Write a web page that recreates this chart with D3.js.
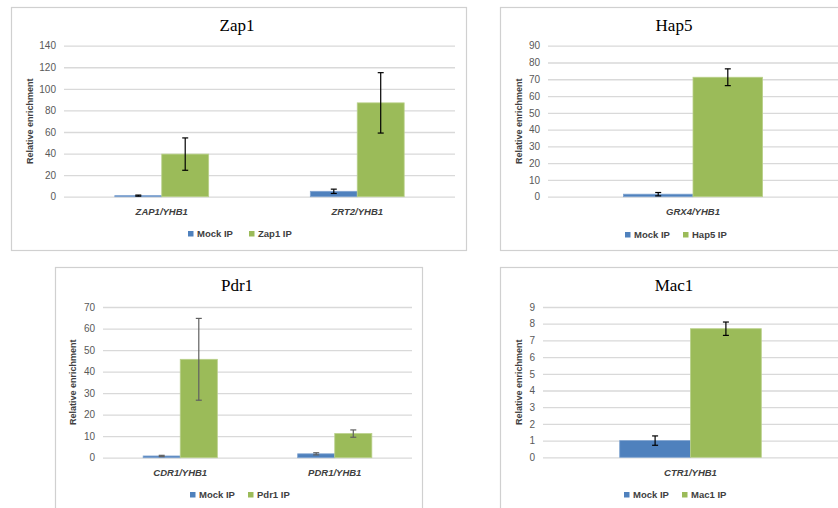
<!DOCTYPE html>
<html>
<head>
<meta charset="utf-8">
<script src="https://cdn.jsdelivr.net/npm/d3@7"></script>
<style>
  html, body { margin: 0; padding: 0; background: #ffffff; }
  svg { display: block; }
</style>
</head>
<body>
<svg id="chart" width="838" height="508"></svg>
<script>
// ---------- DATA ----------
const seriesNames = ["Mock IP", "IP"];

const zap1Categories = ["ZAP1/YHB1", "ZRT2/YHB1"];
const zap1Mock = [1.0, 5.0];
const zap1MockErr = [0.5, 2.0];
const zap1IP = [39.5, 87];
const zap1IPErr = [15, 28];
const zap1Ticks = [0, 20, 40, 60, 80, 100, 120, 140];

const hap5Categories = ["GRX4/YHB1"];
const hap5Mock = [1.5];
const hap5MockErr = [1.0];
const hap5IP = [71.2];
const hap5IPErr = [5.0];
const hap5Ticks = [0, 10, 20, 30, 40, 50, 60, 70, 80, 90];

const pdr1Categories = ["CDR1/YHB1", "PDR1/YHB1"];
const pdr1Mock = [0.8, 1.8];
const pdr1MockErr = [0.3, 0.5];
const pdr1IP = [45.7, 11.2];
const pdr1IPErr = [19, 1.7];
const pdr1Ticks = [0, 10, 20, 30, 40, 50, 60, 70];

const mac1Categories = ["CTR1/YHB1"];
const mac1Mock = [1.0];
const mac1MockErr = [0.28];
const mac1IP = [7.7];
const mac1IPErr = [0.4];
const mac1Ticks = [0, 1, 2, 3, 4, 5, 6, 7, 8, 9];

// ---------- LAYOUT / STYLE ----------
const colMock = "#4F81BD", colIP = "#9BBB59";
const svg = d3.select("#chart");

function panel(cfg) {
  const g = svg.append("g");
  const [bx0, by0, bx1, by1] = cfg.box;
  g.append("rect").attr("x", bx0 + 0.5).attr("y", by0 + 0.5)
    .attr("width", bx1 - bx0).attr("height", by1 - by0)
    .attr("fill", "#fff").attr("stroke", "#d0d0d0").attr("stroke-width", 1.2);

  g.append("text").attr("x", cfg.titleX).attr("y", cfg.titleY)
    .attr("text-anchor", "middle")
    .style("font-family", "'Liberation Serif', 'Times New Roman', serif")
    .style("font-size", "17px").attr("fill", "#000")
    .text(cfg.title);

  const y = d3.scaleLinear().domain([0, d3.max(cfg.ticks)]).range([cfg.bottom, cfg.top]);
  const x = d3.scaleBand().domain(cfg.categories).range([cfg.left, cfg.right])
    .paddingInner(0.52).paddingOuter(0.26);
  const xs = d3.scaleBand().domain(seriesNames).range([0, x.bandwidth()]);

  const axis = d3.axisLeft(y).tickValues(cfg.ticks).tickSize(-(cfg.right - cfg.left)).tickPadding(8);
  const ag = g.append("g").attr("transform", `translate(${cfg.left},0)`).call(axis);
  ag.select(".domain").remove();
  ag.selectAll(".tick line").attr("stroke", "#d9d9d9").attr("stroke-width", 1.3);
  ag.selectAll(".tick text")
    .style("font-family", "'Liberation Sans', Arial, sans-serif")
    .style("font-size", "10px").attr("fill", "#595959");

  g.append("text")
    .attr("transform", `translate(${cfg.yLabelX},${(cfg.top + cfg.bottom) / 2}) rotate(-90)`)
    .attr("text-anchor", "middle").attr("dy", "0.35em")
    .style("font-family", "'Liberation Sans', Arial, sans-serif")
    .style("font-size", "9px").style("font-weight", "bold").attr("fill", "#404040")
    .text("Relative enrichment");

  const rows = [];
  cfg.categories.forEach((c, i) => {
    rows.push({ c, s: "Mock IP", v: cfg.mock[i], e: cfg.mockErr[i], col: colMock });
    rows.push({ c, s: "IP", v: cfg.ip[i], e: cfg.ipErr[i], col: colIP });
  });

  g.selectAll("rect.bar").data(rows).join("rect").attr("class", "bar")
    .attr("x", d => x(d.c) + xs(d.s))
    .attr("width", xs.bandwidth())
    .attr("y", d => y(d.v))
    .attr("height", d => y(0) - y(d.v))
    .attr("fill", d => d.col)
    .attr("stroke", d => d.s === "IP" ? "#b9d08a" : "#7fa3d0")
    .attr("stroke-width", 0.8);

  const eg = g.selectAll("g.err").data(rows).join("g").attr("class", "err")
    .attr("stroke", cfg.errColor).attr("stroke-width", 1.2);
  const cx = d => x(d.c) + xs(d.s) + xs.bandwidth() / 2;
  eg.append("line").attr("x1", cx).attr("x2", cx)
    .attr("y1", d => y(d.v + d.e)).attr("y2", d => y(Math.max(0, d.v - d.e)));
  eg.append("line").attr("x1", d => cx(d) - 3).attr("x2", d => cx(d) + 3)
    .attr("y1", d => y(d.v + d.e)).attr("y2", d => y(d.v + d.e));
  eg.append("line").attr("x1", d => cx(d) - 3).attr("x2", d => cx(d) + 3)
    .attr("y1", d => y(Math.max(0, d.v - d.e))).attr("y2", d => y(Math.max(0, d.v - d.e)));

  g.selectAll("text.xl").data(cfg.categories).join("text").attr("class", "xl")
    .attr("x", d => x(d) + x.bandwidth() / 2).attr("y", cfg.bottom + 18.5)
    .attr("text-anchor", "middle")
    .style("font-family", "'Liberation Sans', Arial, sans-serif")
    .style("font-size", "9.5px").style("font-weight", "bold").style("font-style", "italic")
    .attr("fill", "#404040").text(d => d);

  const leg = [{ name: "Mock IP", col: colMock, x: cfg.legendX[0] },
               { name: cfg.ipName, col: colIP, x: cfg.legendX[1] }];
  const lg = g.selectAll("g.leg").data(leg).join("g").attr("class", "leg");
  lg.append("rect").attr("x", d => d.x).attr("y", cfg.legendY - 5)
    .attr("width", 5.5).attr("height", 5.5).attr("fill", d => d.col);
  lg.append("text").attr("x", d => d.x + 9).attr("y", cfg.legendY + 0.5)
    .style("font-family", "'Liberation Sans', Arial, sans-serif")
    .style("font-size", "9.5px").style("font-weight", "bold").attr("fill", "#404040")
    .text(d => d.name);
}

panel({
  box: [11, 7, 466, 250], title: "Zap1", titleX: 237, titleY: 31,
  left: 64, right: 455, top: 45.7, bottom: 196.7,
  ticks: zap1Ticks, categories: zap1Categories,
  mock: zap1Mock, mockErr: zap1MockErr, ip: zap1IP, ipErr: zap1IPErr,
  ipName: "Zap1 IP", legendX: [188, 249], legendY: 236, yLabelX: 30, errColor: "#000"
});
panel({
  box: [500, 7, 845, 250], title: "Hap5", titleX: 674, titleY: 31,
  left: 548, right: 838, top: 45.7, bottom: 196.7,
  ticks: hap5Ticks, categories: hap5Categories,
  mock: hap5Mock, mockErr: hap5MockErr, ip: hap5IP, ipErr: hap5IPErr,
  ipName: "Hap5 IP", legendX: [625, 683], legendY: 237, yLabelX: 519, errColor: "#000"
});
panel({
  box: [55, 267, 422, 515], title: "Pdr1", titleX: 237, titleY: 291,
  left: 103, right: 412, top: 307, bottom: 457.7,
  ticks: pdr1Ticks, categories: pdr1Categories,
  mock: pdr1Mock, mockErr: pdr1MockErr, ip: pdr1IP, ipErr: pdr1IPErr,
  ipName: "Pdr1 IP", legendX: [190, 248], legendY: 497, yLabelX: 73, errColor: "#606060"
});
panel({
  box: [500, 267, 845, 515], title: "Mac1", titleX: 674, titleY: 291,
  left: 543, right: 838, top: 307, bottom: 457.3,
  ticks: mac1Ticks, categories: mac1Categories,
  mock: mac1Mock, mockErr: mac1MockErr, ip: mac1IP, ipErr: mac1IPErr,
  ipName: "Mac1 IP", legendX: [624, 682], legendY: 497, yLabelX: 519, errColor: "#000"
});
</script>
</body>
</html>
